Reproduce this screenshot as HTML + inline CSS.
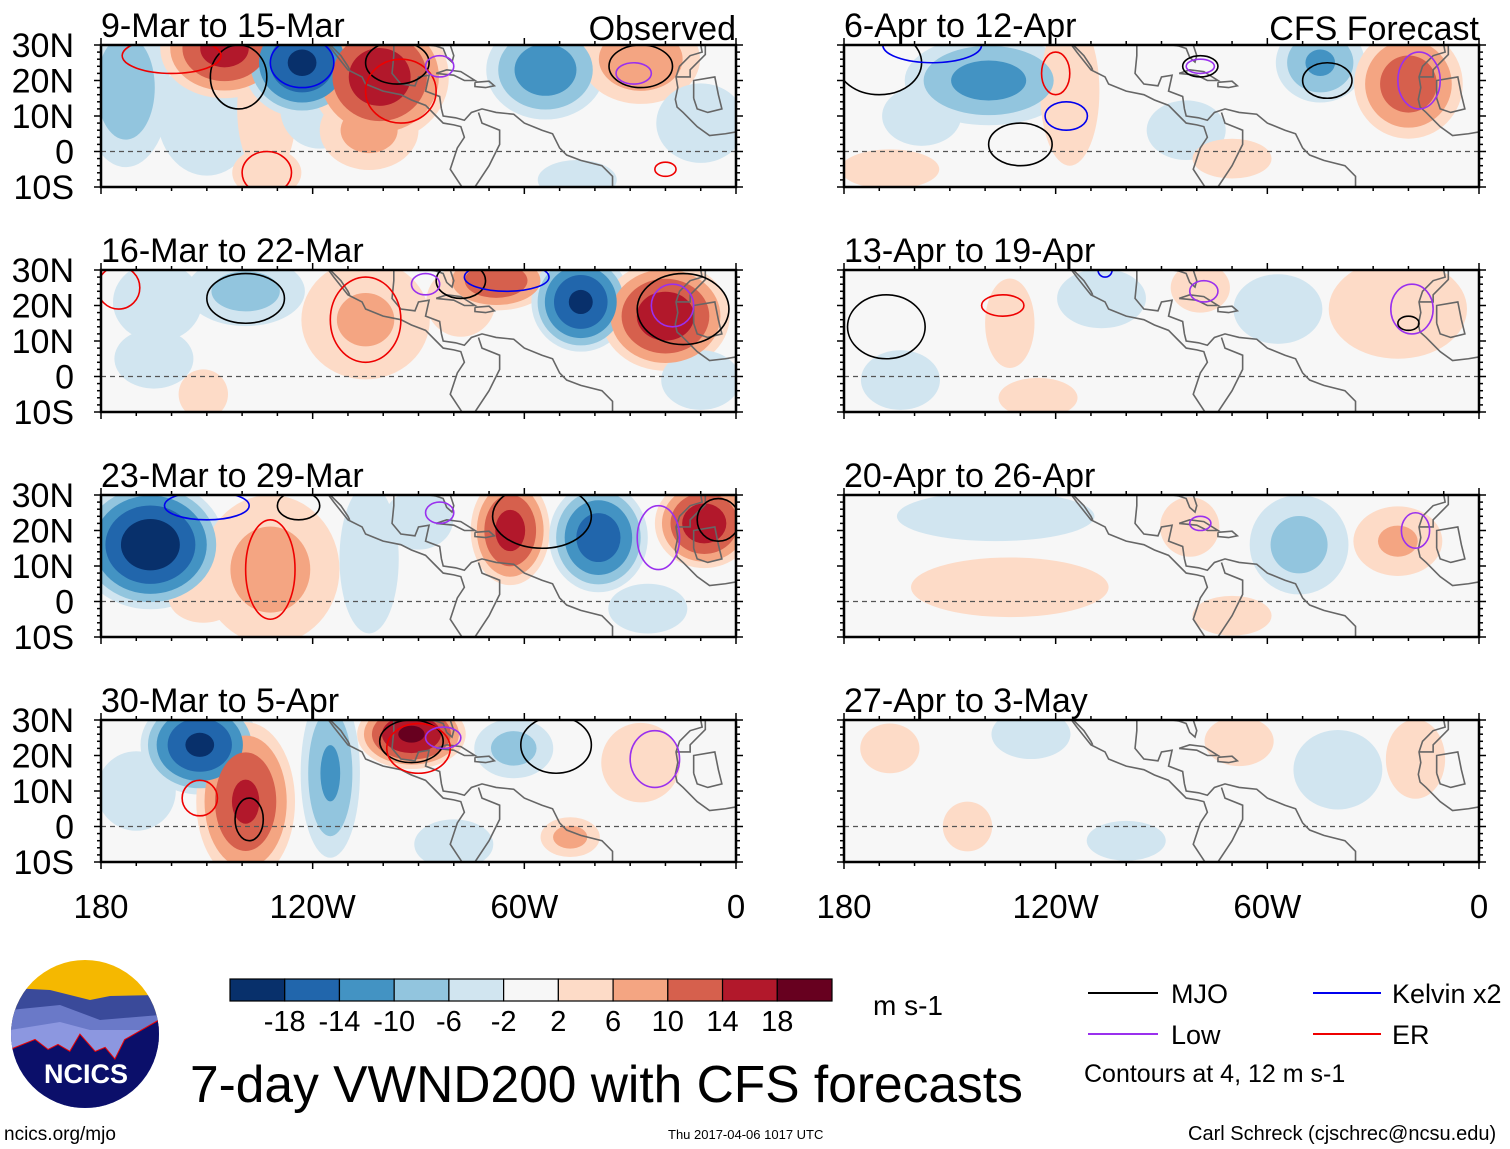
<!DOCTYPE html>
<html><head><meta charset="utf-8"><style>
html,body{margin:0;padding:0;background:#fff;}
svg{display:block;font-family:"Liberation Sans",Arial,sans-serif;}
</style></head><body>
<svg id="chart" width="1510" height="1149" viewBox="0 0 1510 1149" xmlns="http://www.w3.org/2000/svg">
<rect width="1510" height="1149" fill="#fff"/>
<g id="panels"></g>
<g id="colorbar"></g>
<text x="873" y="1015" font-size="28">m s-1</text>
<g>
<line x1="1088" y1="993" x2="1158" y2="993" stroke="#000" stroke-width="2"/>
<text x="1171" y="1003" font-size="27">MJO</text>
<line x1="1313" y1="993" x2="1381" y2="993" stroke="#0000ee" stroke-width="2"/>
<text x="1392" y="1003" font-size="27">Kelvin x2</text>
<line x1="1088" y1="1034" x2="1158" y2="1034" stroke="#9a30ee" stroke-width="2"/>
<text x="1171" y="1044" font-size="27">Low</text>
<line x1="1313" y1="1034" x2="1381" y2="1034" stroke="#ee0000" stroke-width="2"/>
<text x="1392" y="1044" font-size="27">ER</text>
<text x="1084" y="1082" font-size="25">Contours at 4, 12 m s-1</text>
</g>
<text x="190" y="1102" font-size="51.5">7-day VWND200 with CFS forecasts</text>
<text x="4" y="1140" font-size="19">ncics.org/mjo</text>
<text x="668" y="1139" font-size="13">Thu 2017-04-06 1017 UTC</text>
<text x="1188" y="1140" font-size="20">Carl Schreck (cjschrec@ncsu.edu)</text>
<g>
<clipPath id="logoclip"><circle cx="85" cy="1034" r="74"/></clipPath>
<g clip-path="url(#logoclip)">
<rect x="10" y="960" width="150" height="150" fill="#f5b800"/>
<polygon points="10,988 50,990 90,1000 110,996 160,995 160,1110 10,1110" fill="#3a4a9a"/>
<polygon points="10,1010 60,1005 100,1020 160,1015 160,1110 10,1110" fill="#6a79c8"/>
<polygon points="10,1030 60,1022 90,1030 160,1030 160,1110 10,1110" fill="#8c97e0"/>
<polyline points="10,1050 35,1040 48,1050 58,1045 70,1052 80,1035 95,1052 105,1048 115,1060 125,1040 160,1020" fill="none" stroke="#e00" stroke-width="2"/>
<polygon points="10,1050 35,1040 48,1050 58,1045 70,1052 80,1035 95,1052 105,1048 115,1060 125,1040 160,1020 160,1110 10,1110" fill="#0b0f6a"/>
</g>
<text x="86" y="1083" font-size="27" font-weight="bold" fill="#fff" text-anchor="middle">NCICS</text>
</g>
</svg>
<script>
// ---- data ----
const panelTitles = ["9-Mar to 15-Mar","16-Mar to 22-Mar","23-Mar to 29-Mar","30-Mar to 5-Apr","6-Apr to 12-Apr","13-Apr to 19-Apr","20-Apr to 26-Apr","27-Apr to 3-May"];
const latTicks = ["30N","20N","10N","0","10S"];
const latValues = [30,20,10,0,-10];
const lonTicks = ["180","120W","60W","0"];
const lonValues = [-180,-120,-60,0];
const cbLevels = [-18,-14,-10,-6,-2,2,6,10,14,18];
const cbColors = ["#08306b","#2166ac","#4393c3","#92c5de","#d1e5f0","#f7f7f7","#fddbc7","#f4a582","#d6604d","#b2182b","#67001f"];
// anomaly blobs per panel: [lon, lat, rxDeg, ryDeg, value m/s]
const blobs0 = [[-173,18,9,16,-9],[-150,10,10,12,-4],[-145,29,13,10,16],[-133,12,6,14,4],[-123,25,12,11,-19],[-118,12,8,8,-5],[-101,21,14,13,17],[-104,6,10,8,8],[-54,23,12,10,-13],[-27,26,12,9,10],[-10,8,9,8,-5],[-133,-6,7,5,4],[-45,-8,8,4,-3]];
const blobs1 = [[-164,21,9,8,-5],[-139,24,12,7,-8],[-105,16,13,12,7],[-151,-5,5,5,6],[-68,27,11,6,14],[-78,21,7,7,6],[-44,21,10,10,-19],[-20,17,13,11,17],[-10,-1,8,6,-4],[-165,5,8,6,-3]];
const blobs2 = [[-166,16,15,13,-21],[-132,9,14,15,8],[-104,12,6,15,-6],[-64,20,8,11,16],[-39,18,10,11,-17],[-9,22,10,9,17],[-151,1,7,5,5],[-90,23,7,6,-6],[-25,-2,8,5,-4]];
const blobs3 = [[-152,23,12,10,-19],[-139,7,10,16,15],[-115,15,6,17,-11],[-92,26,11,7,19],[-63,22,8,6,-8],[-170,10,8,8,-4],[-47,-3,6,4,8],[-27,18,8,8,4],[-80,-5,8,5,-3]];
const blobs4 = [[-139,20,17,9,-12],[-167,-5,10,4,4],[-116,17,6,15,6],[-45,25,9,8,-11],[-20,19,11,11,13],[-83,6,8,6,-4],[-158,10,8,6,-4],[-70,-2,8,4,3]];
const blobs5 = [[-133,15,5,9,5],[-107,22,9,6,-5],[-79,25,6,5,5],[-57,19,9,7,-4],[-23,19,14,10,5],[-164,-1,8,6,-3],[-125,-6,8,4,3]];
const blobs6 = [[-51,16,10,10,-8],[-23,17,9,7,7],[-133,4,20,6,4],[-82,21,6,6,5],[-137,24,20,5,-3],[-70,-4,8,4,3]];
const blobs7 = [[-127,26,8,5,-6],[-68,24,7,5,6],[-40,16,9,8,-6],[-145,0,5,5,4],[-18,19,6,8,4],[-167,22,6,5,3],[-100,-4,8,4,-3]];
const blobSets = [blobs0,blobs1,blobs2,blobs3,blobs4,blobs5,blobs6,blobs7];
// contours per panel: [lon, lat, rxDeg, ryDeg, type]
const contours0 = [[-141,21,8,9,"mjo"],[-96,25,9,6,"mjo"],[-27,24,9,6,"mjo"],[-123,25,9,7,"kelvin"],[-160,27,14,5,"er"],[-95,17,10,9,"er"],[-133,-6,7,6,"er"],[-29,22,5,3,"low"],[-20,-5,3,2,"er"],[-84,24,4,3,"low"]];
const contours1 = [[-139,22,11,7,"mjo"],[-105,16,10,12,"er"],[-78,27,7,5,"mjo"],[-15,19,13,10,"mjo"],[-18,20,6,6,"low"],[-65,28,12,4,"kelvin"],[-88,26,4,3,"low"],[-175,25,6,6,"er"]];
const contours2 = [[-132,9,7,14,"er"],[-55,24,14,9,"mjo"],[-22,18,6,9,"low"],[-150,27,12,4,"kelvin"],[-124,27,6,4,"mjo"],[-84,25,4,3,"low"],[-5,23,6,6,"mjo"]];
const contours3 = [[-138,2,4,6,"mjo"],[-152,8,5,5,"er"],[-92,24,9,6,"mjo"],[-90,22,9,7,"er"],[-51,23,10,8,"mjo"],[-23,19,7,8,"low"],[-83,25,5,3,"low"]];
const contours4 = [[-130,2,9,6,"mjo"],[-117,10,6,4,"kelvin"],[-43,20,7,5,"mjo"],[-17,20,6,8,"low"],[-170,25,12,9,"mjo"],[-155,30,14,5,"kelvin"],[-120,22,4,6,"er"],[-79,24,5,3,"mjo"],[-79,24,4,2,"low"]];
const contours5 = [[-168,14,11,9,"mjo"],[-135,20,6,3,"er"],[-19,19,6,7,"low"],[-20,15,3,2,"mjo"],[-78,24,4,3,"low"],[-106,30,2,2,"kelvin"]];
const contours6 = [[-18,20,4,5,"low"],[-79,22,3,2,"low"]];
const contours7 = [];
const contourSets = [contours0,contours1,contours2,contours3,contours4,contours5,contours6,contours7];
const contourColors = {mjo:"#000000",kelvin:"#0000ee",low:"#9a30ee",er:"#ee0000"};
// geography (approximate coastlines)
const coastAmericas = [[-118,34],[-117,32],[-114,28],[-110,23],[-106,21],[-105,19],[-100,17],[-95,16],[-92,14.5],[-88,13],[-85,10],[-83,8],[-80,7.5],[-78,7],[-77,4],[-79,1],[-80,-2],[-81,-5],[-79,-8],[-77,-11]];
const coastGulf = [[-97,30],[-97,27],[-97.5,22],[-95,19],[-91,18.5],[-90,21],[-87,21.5],[-88,17],[-84,15.5],[-83.5,12],[-83,10],[-79.5,9.5],[-77,8.8],[-75,11],[-72,12],[-68,11],[-63,10.5],[-60,8],[-55,6],[-52,5],[-50,1],[-48,-1],[-44,-2.5],[-38,-4],[-35,-7],[-35,-11]];
const coastFlorida = [[-89,30.3],[-85,29.7],[-83,29],[-82,26.5],[-80.5,25.2],[-80,27],[-81,30],[-81,31]];
const coastBaja = [[-117,32],[-115,30],[-112,27],[-110,24],[-109.5,23]];
const coastCuba = [[-85,22],[-82,23],[-78,22.5],[-74,20],[-77,20],[-80,21.5],[-85,22]];
const coastHisp = [[-74,19.5],[-70,19.8],[-68.5,18.5],[-71,18],[-74,18.3],[-74,19.5]];
const coastAfrica = [[-10,30],[-9.6,28],[-13,27],[-16,24],[-17,21],[-16.5,18],[-17.2,14.7],[-16.7,12.5],[-15,11],[-13,9],[-11,7],[-7.5,4.5],[-3,5],[0,5.5]];
const coastAfricaInner = [[-17,21],[-13,21],[-13,23],[-8.7,27.3],[-8.7,30]];
const coastAfricaInner2 = [[-12,15],[-12,20],[-6,21],[-5,16],[-4,12],[-8,11],[-11,12],[-12,15]];
const coastSA = [[-73,11],[-72,8],[-67,6],[-67,2],[-70,-4],[-74,-10]];
const coastLines = [coastAmericas,coastGulf,coastFlorida,coastBaja,coastCuba,coastHisp,coastAfrica,coastAfricaInner,coastAfricaInner2,coastSA];

// ---- layout ----
const colX = [101, 844], rowY = [45, 270, 495, 720];
const PW = 635, PH = 142, BLOBSCALE = 1.4;
const NS = "http://www.w3.org/2000/svg";
function el(tag, attrs, parent){const e=document.createElementNS(NS,tag);for(const k in attrs)e.setAttribute(k,attrs[k]);if(parent)parent.appendChild(e);return e;}
function colorFor(v, level){ const idx = v>0 ? 6+level : 4-level; return cbColors[idx]; }
const levelVals=[2,6,10,14,18];
const root=document.getElementById('panels');
for(let p=0;p<8;p++){
  const x0=colX[p<4?0:1], y0=rowY[p%4];
  const xs=lon=>x0+(lon+180)*PW/180;
  const ys=lat=>y0+(30-lat)*PH/40;
  const g=el('g',{},root);
  
  
  const cp=el('clipPath',{id:'clip'+p},g);
  el('rect',{x:x0,y:y0,width:PW,height:PH},cp);
  const inner=el('g',{'clip-path':'url(#clip'+p+')'},g);
  el('rect',{x:x0,y:y0,width:PW,height:PH,fill:'#f7f7f7'},inner);
  const bl=blobSets[p];
  for(let L=0;L<5;L++){
    for(const b of bl){
      const a=Math.abs(b[4]); if(levelVals[L]>=a) continue;
      const f=Math.sqrt((a-levelVals[L])/(a-2))*BLOBSCALE;
      const e=el('ellipse',{cx:xs(b[0]),cy:ys(b[1]),rx:b[2]*f*PW/180,ry:b[3]*f*PH/40,fill:colorFor(b[4],L)},inner);
      
      
    }
  }
  el('line',{x1:x0,y1:ys(0),x2:x0+PW,y2:ys(0),stroke:'#555','stroke-width':1.2,'stroke-dasharray':'5,4'},inner);
  for(const c of coastLines){
    const pl=el('polyline',{points:c.map(q=>xs(q[0])+','+ys(q[1])).join(' '),fill:'none',stroke:'#666','stroke-width':1.6},inner);
    
    
  }
  for(const c of contourSets[p]){
    const e=el('ellipse',{cx:xs(c[0]),cy:ys(c[1]),rx:c[2]*PW/180,ry:c[3]*PH/40,fill:'none',stroke:contourColors[c[4]],'stroke-width':1.6},inner);
    
    
  }
  el('rect',{x:x0,y:y0,width:PW,height:PH,fill:'none',stroke:'#000','stroke-width':2.5},g);
  for(let lat=-10;lat<=30;lat+=2){
    const big=lat%10===0, len=big?7:4;
    el('line',{x1:x0,y1:ys(lat),x2:x0-len,y2:ys(lat),stroke:'#000','stroke-width':1.5},g);
    el('line',{x1:x0+PW,y1:ys(lat),x2:x0+PW+len,y2:ys(lat),stroke:'#000','stroke-width':1.5},g);
  }
  for(let lon=-180;lon<=0;lon+=10){
    const big=lon%60===0, len=big?7:4;
    el('line',{x1:xs(lon),y1:y0,x2:xs(lon),y2:y0-len,stroke:'#000','stroke-width':1.5},g);
    el('line',{x1:xs(lon),y1:y0+PH,x2:xs(lon),y2:y0+PH+len,stroke:'#000','stroke-width':1.5},g);
  }
  const t=el('text',{x:x0,y:y0-8,'font-size':34},g); t.textContent=panelTitles[p];
  
  
  if(p===0){const o=el('text',{x:x0+PW,y:y0-5,'font-size':34,'text-anchor':'end'},g);o.textContent='Observed';
    
    }
  if(p===4){const o=el('text',{x:x0+PW,y:y0-5,'font-size':34,'text-anchor':'end'},g);o.textContent='CFS Forecast';
    
    }
  if(p<4){
    latValues.forEach((lv,i)=>{const tt=el('text',{x:74,y:ys(lv)+12,'font-size':34,'text-anchor':'end'},g);tt.textContent=latTicks[i];
      
      });
  }
  if(p%4===3){
    lonValues.forEach((lv,i)=>{const tt=el('text',{x:xs(lv),y:918,'font-size':33,'text-anchor':'middle'},g);tt.textContent=lonTicks[i];
      
      });
  }
}
const cb=document.getElementById('colorbar');
const cbx=230, cby=979, cbw=602/11, cbh=22;
cbColors.forEach((c,i)=>{const r=el('rect',{x:cbx+i*cbw,y:cby,width:cbw,height:cbh,fill:c,stroke:'#000','stroke-width':1.2},cb);
  
  });
cbLevels.forEach((v,i)=>{const t=el('text',{x:cbx+(i+1)*cbw,y:1031,'font-size':29,'text-anchor':'middle'},cb);t.textContent=String(v);
  
  });
</script>
</body></html>
